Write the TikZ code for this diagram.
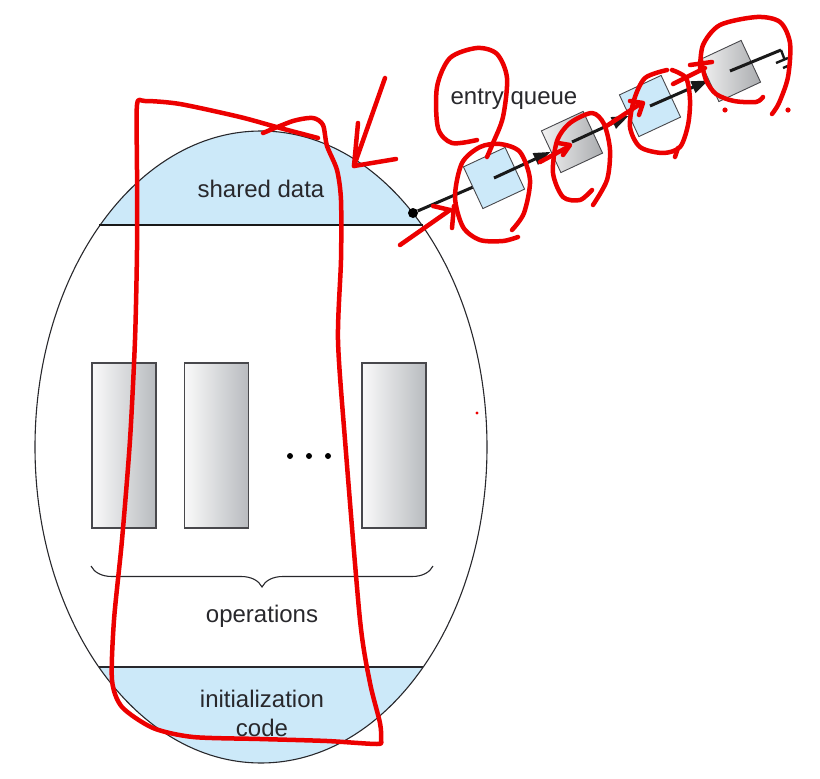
\documentclass[tikz,border=0pt]{standalone}
\usepackage{fontspec}
\setmainfont{Liberation Sans}
\usetikzlibrary{arrows.meta,decorations.pathreplacing}
\definecolor{capblue}{RGB}{204,233,249}
\definecolor{opgray}{RGB}{184,187,191}
\definecolor{sqgray}{RGB}{170,172,175}
\definecolor{inkc}{RGB}{40,40,44}
\definecolor{markred}{RGB}{236,0,0}
\tikzset{
  lbl/.style={font=\fontsize{24}{29}\selectfont, text=inkc, inner sep=0pt, align=center},
  opbox/.style={draw=inkc!85, line width=1.2pt, left color=gray!4, right color=opgray, minimum width=64pt, minimum height=165pt, inner sep=0pt},
  qsq/.style={draw=inkc!85, line width=0.9pt, minimum size=46pt, inner sep=0pt, rotate=25},
  qblue/.style={qsq, fill=capblue},
  qgray/.style={qsq, left color=gray!10, right color=sqgray},
  qline/.style={draw=black!90, line width=3pt},
  qarrow/.style={qline, -{Triangle[length=17pt,width=12pt]}},
  redmark/.style={draw=markred, line width=4.5pt, line cap=round, line join=round},
}
\begin{document}
\begin{tikzpicture}[x=1pt,y=-1pt]
\useasboundingbox (0,0) rectangle (820,779);
% caps of the monitor
\begin{scope}
  \clip (261,447) ellipse [x radius=226pt, y radius=316pt];
  \fill[capblue] (0,0) rectangle (820,225);
  \fill[capblue] (0,667) rectangle (820,779);
\end{scope}
\draw[inkc, line width=1.1pt] (261,447) ellipse [x radius=226pt, y radius=316pt];
\coordinate (sdl) at (99,225);
\coordinate (sdr) at (423,225);
\draw[black!90, line width=2.4pt] (sdl) -- (sdr);
\coordinate (icl) at (99,667);
\coordinate (icr) at (423,667);
\draw[inkc, line width=1.1pt] (icl) -- (icr);
% texts
\node[lbl] (shared) at (261,189) {shared data};
\node[lbl] (ops) at (262,616) {operations};
\node[lbl] (init) at (262,713) {initialization\\code};
\node[lbl] (entry) at (514,99) {entry queue};
% operations
\node[opbox] (op1) at (124,445.5) {};
\node[opbox] (op2) at (216.5,445.5) {};
\node[opbox] (op3) at (394,445.5) {};
\fill[black] (290,456) circle[radius=3pt] (309,456) circle[radius=3pt] (328,456) circle[radius=3pt];
\coordinate (bra) at (433,566);
\coordinate (brb) at (91,566);
\draw[inkc, line width=1.1pt, decorate, decoration={brace, amplitude=21pt}] (bra) -- (brb);
% entry queue
\node[circle, fill=black, inner sep=0pt, minimum size=10pt] (dot) at (413,213) {};
\node[qblue] (q1) at (494,178) {};
\node[qgray] (q2) at (572,142) {};
\node[qblue] (q3) at (650,106) {};
\node[qgray] (q4) at (730,71) {};
\draw[qline] (dot) -- (q1);
\draw[qarrow] (q1.center) -- (q2);
\draw[qarrow] (q2.center) -- (q3);
\draw[qarrow] (q3.center) -- (q4);
\coordinate (qend) at (781,50);
\draw[qline] (q4.center) -- (qend);
\draw[black!90, line width=2.4pt] (qend) -- (784,58) (776,63) -- (788,58) (783,68) -- (790,65);
% red annotations
\draw[redmark] plot[smooth, tension=0.45] coordinates {(263,133) (293,121) (313,118) (323,125) (327,146) (337,170) (341,200) (341,260) (338,340) (345,440) (360,620) (370,683) (380,723) (381,740) (377,744) (327,741) (260,739) (193,737) (153,728) (122,707) (112,680) (114,620) (122,540) (130,440) (135,340) (137,250) (137,170) (137,105) (145,101) (180,104) (240,117) (280,128) (318,138)};
\draw[redmark] (385,78) -- (354,166);
\draw[redmark] (358,123) -- (354,166) -- (396,159);
\draw[redmark] (400,245) -- (450,210);
\draw[redmark] (433,206) -- (450,210);
\draw[redmark] (452,228) -- (454,206);
\draw[redmark] plot[smooth] coordinates {(477,140) (452,143) (438,128) (437,87) (450,58) (477,48) (497,54) (507,78) (503,117) (493,143) (487,157)};
\draw[redmark] plot[smooth] coordinates {(518,237) (503,241) (480,240) (463,227) (455,197) (462,163) (480,147) (500,144) (520,152) (530,180) (524,213) (512,230)};
\draw[redmark] plot[smooth] coordinates {(592,190) (580,200) (563,197) (553,173) (557,141) (570,123) (592,113) (604,124) (610,150) (607,180) (593,205)};
\draw[redmark] (540,162) -- (566,148);
\draw[redmark] (558,143) -- (570,145) -- (563,155);
\draw[redmark] (605,127) -- (640,104);
\draw[redmark] (630,101) -- (643,103) -- (639,115);
\draw[redmark] plot[smooth] coordinates {(667,70) (645,78) (634,100) (630,127) (640,147) (663,153) (680,147) (688,125) (690,100) (686,78) (672,70)};
\draw[redmark] (678,148) -- (675,157);
\draw[redmark] (673,84) -- (705,68);
\draw[redmark] (690,65) -- (712,62);
\draw[redmark] plot[smooth] coordinates {(700,70) (703,45) (720,25) (757,17) (780,22) (790,43) (788,77) (779,103) (772,114)};
\draw[redmark] plot[smooth] coordinates {(701,60) (706,80) (716,94) (734,101) (756,102) (763,97)};
\fill[markred] (725,110) circle[radius=2.6pt] (788,110) circle[radius=2.6pt] (477,413) circle[radius=1.6pt];
\end{tikzpicture}
\end{document}
